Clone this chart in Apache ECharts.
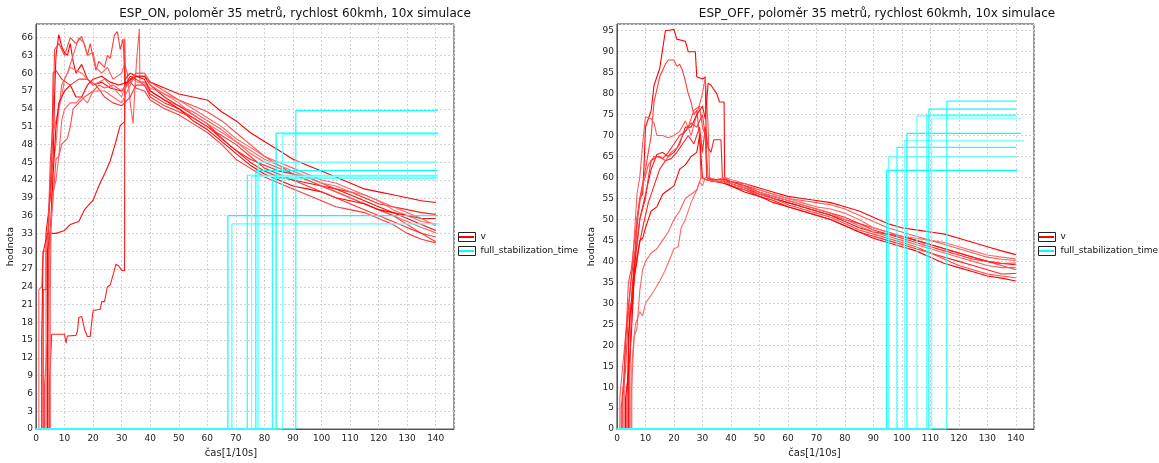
<!DOCTYPE html>
<html>
<head>
<meta charset="utf-8">
<script src="https://cdn.jsdelivr.net/npm/echarts@6/dist/echarts.min.js"></script>
<style>
html,body{margin:0;padding:0;background:#fff;}
#c{width:1159px;height:463px;}
</style>
</head>
<body>
<div id="c"></div>
<script>
// ---------- data ----------
const TITLES = ['ESP_ON, poloměr 35 metrů, rychlost 60kmh, 10x simulace',
                'ESP_OFF, poloměr 35 metrů, rychlost 60kmh, 10x simulace'];
const X_NAME = 'čas[1/10s]';
const Y_NAME = 'hodnota';
const SERIES_NAMES = ['v', 'full_stabilization_time'];

// time points of the common decline part
const FALL_T = [38,40,45,50,55,60,65,70,75,80,85,90,95,100,105,110,115,120,125,130,135,140];

// ESP_ON – start-up part of each simulation [t, v]
const ON_RISE = [
  [[0,0],[2.5,0],[2.5,23.5],[3.5,23.5],[3.5,33],[5,39],[6,45.5],[6.5,56],[7,63],[8,66.5],[9,64.5],[10,63.5],[11,63],[12,65],[13,62],[14,60],[16,61.5],[18,59],[20,58],[23,58.5],[26,57.5],[30,57],[33,59],[35,59.5]],
  [[0,0],[4,0],[4,30],[5,45],[6,52],[6.5,64],[8,65],[10,63],[12,66],[14,65],[16,66.2],[18,63],[19,65],[21,60.5],[22,62],[24,61],[25,63],[26,62.5],[27.5,66.5],[28.5,67],[29.5,64],[30.5,65.8],[31,65.8],[31.2,57.5],[33,58.5],[35,57.5]],
  [[0,0],[1,0],[1,23.5],[2,24],[2.5,30],[4,30],[5,42],[6,50],[8,54],[9,58],[11,60],[13,63],[15,66],[17,65],[18,63],[20,63.5],[21,61],[23,60],[25,61],[27,59],[30,60],[31,61.5],[32,60],[33,55],[34,51.5],[34.5,56],[35.2,62],[36.2,67.5],[36.4,58.5]],
  [[0,0],[2,0],[2,15],[2.5,29.8],[3,30],[4,33],[7,33],[10,33.5],[12,34.5],[15,35],[17,37],[20,38.6],[22,41],[24,43],[26,45.2],[28,48.5],[29.5,51.2],[31,51.8],[31.2,59],[33,60],[35,59.5]],
  [[0,0],[4.8,0],[4.8,8],[5.2,8],[5.5,16],[10,16],[10.5,14.5],[11,15.7],[14,15.8],[14.5,16.5],[15,18.8],[16,19],[17,16.8],[18,15.6],[19,15.6],[19.5,18],[20,20],[22.5,20.2],[23,21.5],[24,21.5],[25,24],[26,24.3],[27,26],[28,27.8],[29,27.5],[30,26.8],[31,26.7],[31.1,65.8],[31.3,58],[33,59.5],[35,59]],
  [[0,0],[3,0],[3,7.5],[4,15],[4.5,29.8],[5,33],[6,39],[7,45.5],[8,46],[9,48],[11,49],[12,51],[13,54],[15,55],[17,56],[20,57],[22,58],[24,57.5],[27,58],[30,57],[33,59],[35,60]],
  [[0,0],[3.5,0],[3.5,24],[5,24],[5.5,40],[6,45],[7,48],[8,54],[9,56],[10,59],[12,61],[14,60.5],[16,60],[20,58],[24,59],[27,57.5],[30,56],[31,57.5],[34,59],[35.5,58.5]],
  [[0,0],[4,0],[4,30],[5,33],[6,43],[7,51],[8,55],[10,57],[12,58],[14,56],[16,56],[18,58],[20,59],[23,59.5],[26,58.5],[29,58],[32,58.5],[35,59.5]],
  [[0,0],[4.5,0],[4.5,36],[5.5,45],[6,60],[7,60.5],[9,59],[12,58],[15,59],[18,59],[21,58],[24,56],[27,55],[30,54.5],[33,56],[35,58]],
  [[0,0],[5,0],[5,33],[6,40],[7,42],[8,46],[9,52],[10,54],[12,55],[14,55],[16,56],[18,55],[20,57],[24,57],[27,56],[30,55],[32,57],[35,60]]
];
// ESP_ON – decline part, values at FALL_T
const ON_FALL = [
  [59.5,58.5,57.5,56.5,56,55.5,53.5,52,50,48.5,47,45.5,44.5,43.5,42.5,41.5,40.5,40,39.5,39,38.5,38.2],
  [57,55.5,54,53,51.5,50,48,45.5,44,42.5,41.5,40.5,39.5,38.5,37.5,37,36.5,35.5,34.5,33,32,31.4],
  [58.5,57,55.5,54.5,53.5,52,50.5,48.5,46.5,45,44,43,42,41,40,39,38,37,36,35,34,33.1],
  [59.5,58,56,54.5,53,51.5,49,47,45,43.5,42.5,42,41.5,41,40.5,39.5,38.5,37.5,36.5,35.5,34.5,33.5],
  [58,56.5,55,54,52.5,51,49,47,45.5,44.5,43.5,43,42.5,41.5,40.5,40,39,38,37.5,37,36.5,36.2],
  [60,58.5,57,55.5,54.5,53.5,52,50,48,46,44.5,43,42,41,40,39,38,37,36,34.5,33,32.4],
  [58.5,57.5,56.5,55,53,51.5,50,48.5,47,45.5,44.5,43.5,42.5,41.5,41,40,39.5,38.5,37,36,35,34.6],
  [59,57,55.5,54,52,50.5,48.5,46.5,44.5,43,42,41,40.5,40,39,38.5,38,37,36.5,36,35.5,35.5],
  [58,56,54.5,53.5,52.5,51,49.5,48,46,44,43,42,41,40,39,38,37,36,35,34,33,31.6],
  [60,58,56.5,55.5,54,52.5,51,49,47.5,46,45,44,43,42,41.5,40.5,39.5,38.5,37.5,36.5,35.5,34.3]
];
// ESP_OFF – start-up part
const OFF_RISE = [
  [[0,0],[3,0],[3,7.5],[4,13],[5,22],[6,36],[7,50],[8,55],[9,56],[9.5,63],[10,72],[11,74],[12,76],[13,82],[15,86],[17,95],[20,95.3],[21,93],[24,92.5],[25,90],[27.5,90],[28,84],[30,83.5],[31,84],[31.5,60],[33,59.5],[36,59.5]],
  [[0,0],[2,0],[2,7.5],[3,14],[4,28],[5,30],[6,40],[7,48],[8,55],[10,62],[12,70],[13,78],[15,84],[17,87],[18,88],[20,88],[21,86.5],[22,87],[23,85.5],[24,83],[25,80],[26,78],[27,75],[28,76],[29,70],[29.5,60],[31,59.5],[35,59]],
  [[0,0],[1,0],[1,7.5],[2,15],[3,22],[4,28],[5,36],[6,45],[7,56],[8,60],[9,68],[10,74.5],[12,74],[13,73],[14,70],[16,70],[18,69.5],[20,70],[22,71],[24,73.5],[25,72],[26,70],[28,75],[30,80],[31,84],[32,72],[32.5,60],[34,59.5],[36,59]],
  [[0,0],[4,0],[4,22],[5,30],[6,38],[7,44],[8,50],[10,56],[12,62],[14,65.5],[16,66],[18,65],[20,66],[22,68],[24,72],[26,72],[28,75],[30,77],[31,74],[32,82.5],[33,82],[35,80],[36,78],[37.6,78],[37.8,60]],
  [[0,0],[4.5,0],[4.5,14],[5,28],[6,36],[7,41],[9,48],[11,54],[13,58],[15,62],[17,64],[19,64.5],[21,66],[23,68],[25,70],[27,68],[29,72],[30,66],[31,72],[32,67],[33,66],[34,69],[36.5,69],[37,60]],
  [[0,0],[2.5,0],[2.5,13],[3,20],[4,35],[5,38],[7,50],[9,58],[11,63],[13,65],[15,65],[17,64],[19,66],[21,67],[23,70],[25,72],[27,76],[29,77],[30,72],[31,70],[32,60],[33,59],[36,59]],
  [[0,0],[5,0],[5,8],[5.5,15],[6,22],[6.5,25],[8,28],[9,27],[10,30],[11,31],[13,33],[15,35.3],[17,38],[18.5,40.5],[20,43],[21.5,43.5],[22.5,48],[24,50],[26,54],[28,57],[29,59],[30,58],[31,60],[35,59.5]],
  [[0,0],[3.5,0],[3.5,7.5],[4.5,28],[5.5,30],[6,36],[7,40],[8,45],[9,45.5],[10,48],[12,52],[14,53],[16,56],[18,57],[20,58],[22,62],[24,63],[26,65],[28,66],[29,70],[30,60],[31,59.5],[35,59]],
  [[0,0],[1.5,0],[1.5,5],[2.5,13],[3,22],[4,29],[5,36],[6,41],[7,44],[8,50],[10,55],[11,60],[12,64],[14,65],[16,64.5],[18,66],[20,68],[22,70],[24,71],[26,73],[28,72],[30,75],[31,70],[31.5,60],[33,59.5],[36,59.5]],
  [[0,0],[5.2,0],[5.2,15],[6,22],[7,24],[8,33],[9,38],[10,40],[12,42],[14,43],[16,45],[18,47],[20,50],[22,52],[24,55],[26,56],[28,57],[29.5,60],[31,59.5],[35,59]]
];
// ESP_OFF – decline part, values at FALL_T
const OFF_FALL = [
  [59.5,59,58.5,57.5,56.5,55.5,55,54.5,54,53,52,50.5,49,48,47.5,47,46.5,45.5,44.5,43.5,42.5,41.6],
  [59,58.5,57.5,56.5,55,54,53,52,51,50,49,48,47,46,45,44,43,42,41,40,39,38],
  [60,59,58,57,56,55,54.5,54,53.5,52.5,51,49.5,48,47,46,45,44,43,42,41,40.5,40.2],
  [59.5,58.5,57.5,56,55,54,53,52,51,49.5,48,47,46.5,46,45,44,43,42,41,40,39.5,39.2],
  [58.5,58,57,55.5,54.5,53,52,51,50,48.5,47,46,45,44,43,42,41,40,39,38,37,37.1],
  [59,58,57,56,55,53.5,52.5,51.5,50.5,49,47.5,46.5,45.5,44.5,43.5,42,40.5,39,38,37,36.5,36.1],
  [60,59.5,58.5,57,56,55,54,53,52.5,51.5,50,48,47,46,45.5,45,44.5,43.5,42.5,41.5,41,40.6],
  [58.5,58,56.5,55.5,54,53,52,51,50,48.5,47,45.5,44.5,43.5,42.5,41,39.5,38.5,37.5,36.5,36,35.3],
  [59.5,59,58,56.5,55.5,54.5,53.5,52.5,51.5,50.5,49,47.5,46.5,45.5,44.5,43.5,42.5,41.5,40.5,40,39.5,39.6],
  [59,58.5,57.5,56.5,55.5,54.5,53.5,52.5,51.5,50,48.5,47,46,45,44,43,42,41,40,39,38.5,38.5]
];
// full_stabilization_time: [time of stabilization, level, end time]
const ON_STAB = [[67.2,36.0,140.7],[68.6,34.6,141.3],[74.0,42.8,140.7],[75.5,42.6,140.7],[77.0,43.6,140.7],[77.8,45.0,140.7],[82.8,42.3,140.7],[84.1,49.9,140.9],[86.3,49.6,140.7],[91.0,53.7,140.7]];
const OFF_STAB = [[94.7,61.7,140.5],[95.4,64.9,140.1],[98.3,67.2,140.1],[100.9,68.8,142.9],[101.8,70.5,141.8],[105.3,74.7,140.1],[108.8,74.9,140.1],[109.5,76.3,140.1],[110.5,74.0,141.6],[115.8,78.2,140.1]];

const RED = ['#ff0000','#ff3a3a','#ff5a5a','#ff0a0a','#ff2020','#ff4848','#ff6a6a','#ff0000','#ff3030','#ff6060'];
const CYAN = ['#00ffff','#50ffff','#20ffff','#80ffff','#00ffff','#60ffff','#30ffff','#00ffff','#78ffff','#20ffff'];

// ---------- chart ----------
const FONT = 'DejaVu Sans';
const GRIDS = [
  {left:36, top:24, width:418, height:411},
  {left:617, top:24, width:417, height:411}
];
const Y_MAX = [68.3, 96.6];
const Y_INT = [3, 5];
const X_MAX = 146.4;

function xAx(gi){
  return {
    gridIndex:gi, type:'value', min:0, max:X_MAX, interval:10,
    axisLine:{show:true, lineStyle:{color:'#555', width:1}},
    axisTick:{show:false},
    axisLabel:{fontFamily:FONT, fontSize:9, color:'#222', margin:5, showMaxLabel:false},
    splitLine:{show:true, lineStyle:{color:'#d2d2d2', type:[2,2], width:1}},
    name:X_NAME, nameLocation:'middle', nameGap:16,
    nameTextStyle:{fontFamily:FONT, fontSize:10, color:'#222', padding:[0, gi===0?28:22, 0, 0]}
  };
}
function yAx(gi){
  return {
    gridIndex:gi, type:'value', min:0, max:Y_MAX[gi], interval:Y_INT[gi],
    axisLine:{show:true, lineStyle:{color:'#555', width:1}},
    axisTick:{show:false},
    axisLabel:{fontFamily:FONT, fontSize:9, color:'#222', margin:3, showMaxLabel:false},
    splitLine:{show:true, lineStyle:{color:'#d2d2d2', type:[2,2], width:1}},
    name:Y_NAME, nameLocation:'middle', nameGap:20,
    nameTextStyle:{fontFamily:FONT, fontSize:9.5, color:'#222', padding:[0, 40, 0, 0]}
  };
}

const series = [];
function addV(rise, fall, gi){
  rise.forEach((r, k) => {
    const data = r.concat(FALL_T.map((t, i) => [t, fall[k][i]]));
    series.push({
      name:SERIES_NAMES[0], type:'line', xAxisIndex:gi, yAxisIndex:gi,
      data, showSymbol:false, symbol:'none', animation:false, silent:true,
      itemStyle:{color:RED[k]}, lineStyle:{color:RED[k], width:1.1}
    });
  });
}
function addStab(stab, gi){
  stab.forEach((s, k) => {
    const T = s[0], V = s[1], E = s[2];
    series.push({
      name:SERIES_NAMES[1], type:'line', xAxisIndex:gi, yAxisIndex:gi,
      data:[[0,0],[T,0],[T,V],[E,V]], showSymbol:false, symbol:'none', animation:false, silent:true,
      itemStyle:{color:CYAN[k]}, lineStyle:{color:CYAN[k], width:1.2}
    });
  });
}
addV(ON_RISE, ON_FALL, 0);
addV(OFF_RISE, OFF_FALL, 1);
addStab(ON_STAB, 0);
addStab(OFF_STAB, 1);

function legendPair(left){
  const base = {
    orient:'vertical', top:231, padding:0, itemGap:2, selectedMode:false,
    data:SERIES_NAMES
  };
  return [
    Object.assign({}, base, {
      left:left, itemWidth:17, itemHeight:9, icon:'rect', z:3,
      itemStyle:{color:'#ffffff', borderColor:'#222', borderWidth:1},
      textStyle:{fontFamily:FONT, fontSize:9, color:'#111', lineHeight:12}
    }),
    Object.assign({}, base, {
      left:left+1, itemWidth:15, itemHeight:2, icon:'rect', z:4,
      textStyle:{fontFamily:FONT, fontSize:9, color:'rgba(0,0,0,0)', lineHeight:12}
    })
  ];
}

const option = {
  animation:false,
  backgroundColor:'#ffffff',
  title:[
    {text:TITLES[0], left:295, top:8, textAlign:'center', padding:0,
     textStyle:{fontFamily:FONT, fontSize:12, fontWeight:'normal', color:'#111'}},
    {text:TITLES[1], left:877, top:8, textAlign:'center', padding:0,
     textStyle:{fontFamily:FONT, fontSize:12, fontWeight:'normal', color:'#111'}}
  ],
  legend: legendPair(458).concat(legendPair(1038)),
  grid: GRIDS.map(g => Object.assign({show:true, borderColor:'#333', borderWidth:1, backgroundColor:'#fff'}, g)),
  xAxis:[xAx(0), xAx(1)],
  yAxis:[yAx(0), yAx(1)],
  series
};

const chart = echarts.init(document.getElementById('c'), null, {renderer:'canvas'});
chart.setOption(option);
</script>
</body>
</html>
